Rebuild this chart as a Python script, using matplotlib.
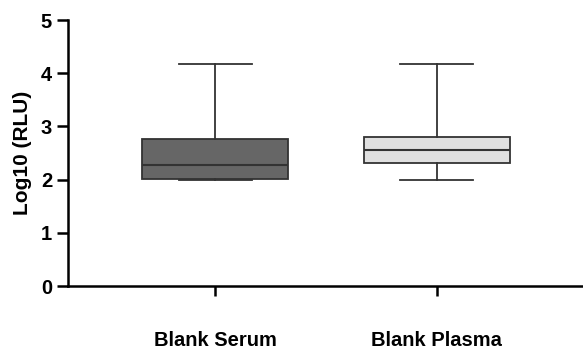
import matplotlib
matplotlib.use("Agg")
import matplotlib.pyplot as plt

groups = ["Blank Serum", "Blank Plasma"]
whisker_low = [1.99, 1.99]
q1 = [2.01, 2.32]
median = [2.27, 2.56]
q3 = [2.76, 2.81]
whisker_high = [4.18, 4.18]
fill_colors = ["#666666", "#e0e0e0"]

plt.rcParams["font.family"] = ["Liberation Sans", "DejaVu Sans"]
plt.rcParams["font.weight"] = "bold"

stats = []
for name, lo, a, m, b, hi in zip(groups, whisker_low, q1, median, q3, whisker_high):
    stats.append(
        {"label": name, "whislo": lo, "q1": a, "med": m, "q3": b, "whishi": hi, "fliers": []}
    )

fig = plt.figure(figsize=(5.83, 3.48), dpi=100)
ax = fig.add_axes([0.1166, 0.178, 0.8834, 0.7644])

edge = "#333333"
bp = ax.bxp(
    stats,
    positions=[1, 2],
    widths=0.66,
    patch_artist=True,
    showfliers=False,
    boxprops=dict(edgecolor=edge, linewidth=1.3),
    medianprops=dict(color=edge, linewidth=1.5),
    whiskerprops=dict(color=edge, linewidth=1.3),
    capprops=dict(color=edge, linewidth=1.3),
    capwidths=0.33,
)
for patch, c in zip(bp["boxes"], fill_colors):
    patch.set_facecolor(c)

ax.set_xlim(0.336, 2.66)
ax.set_ylim(0, 5)
ax.set_yticks([0, 1, 2, 3, 4, 5])
ax.set_xticks([1, 2])
ax.set_xticklabels(groups, fontsize=14.5, fontweight="bold")
ax.tick_params(axis="x", length=7, width=1.8, pad=25)
ax.tick_params(axis="y", length=8, width=1.8, labelsize=14.5)
for lbl in ax.get_yticklabels():
    lbl.set_fontweight("bold")
ax.set_ylabel("Log10 (RLU)", fontsize=15, fontweight="bold", labelpad=6)

for side in ("top", "right"):
    ax.spines[side].set_visible(False)
for side in ("left", "bottom"):
    ax.spines[side].set_linewidth(1.8)

fig.savefig("out.png", dpi=100)
